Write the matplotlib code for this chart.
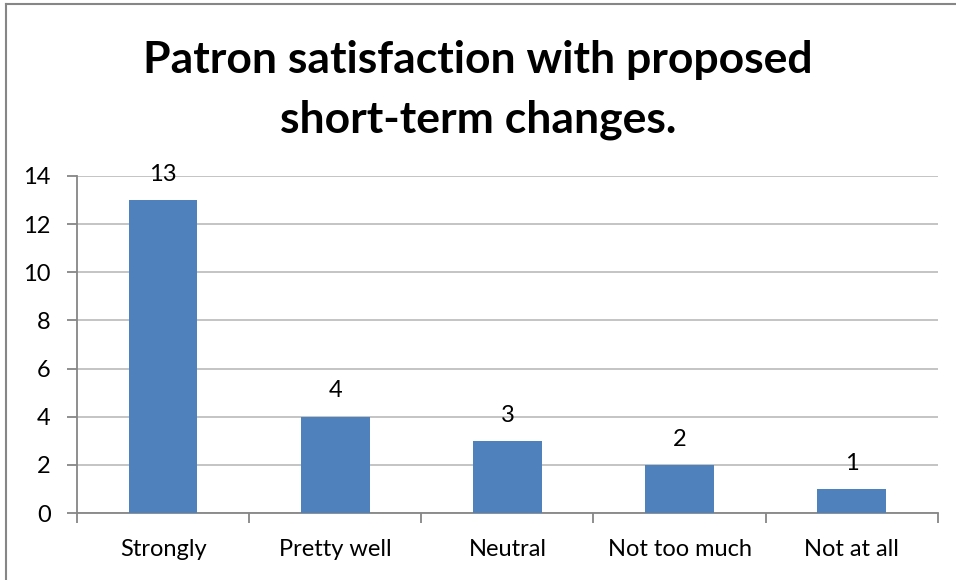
import matplotlib
matplotlib.use("Agg")
import matplotlib.pyplot as plt
from matplotlib.lines import Line2D
import numpy as np

categories = ["Strongly", "Pretty well", "Neutral", "Not too much", "Not at all"]
counts = [13, 4, 3, 2, 1]
y_ticks = [0, 2, 4, 6, 8, 10, 12, 14]

plt.rcParams["font.family"] = ["Lato", "DejaVu Sans"]

fig = plt.figure(figsize=(9.56, 5.8), dpi=100)
ax = fig.add_axes([0.0805, 0.1155, 0.9005, 0.5811])

x = np.arange(len(categories))
bars = ax.bar(x, counts, width=0.4, color="#4F81BD", zorder=3)

for xi, v in zip(x, counts):
    ax.annotate(str(v), (xi, v), xytext=(0, 11), textcoords="offset points",
                ha="center", va="bottom", fontsize=17, color="black")

ax.set_xlim(-0.5, len(categories) - 0.5)
ax.set_ylim(0, 14)
ax.set_yticks(y_ticks)
ax.yaxis.grid(True, color="#BFBFBF", linewidth=1.3, zorder=0)
ax.set_axisbelow(True)

# category labels centred, ticks at the category boundaries
ax.set_xticks(x)
ax.set_xticklabels(categories, fontsize=17)
ax.tick_params(axis="x", length=0, pad=19)
ax.set_xticks(np.arange(len(categories) + 1) - 0.5, minor=True)
ax.tick_params(axis="x", which="minor", length=7, color="#868686", width=1.3)
ax.tick_params(axis="y", labelsize=17, length=7, color="#868686", width=1.3, pad=12)

for side in ["top", "right"]:
    ax.spines[side].set_visible(False)
for side in ["left", "bottom"]:
    ax.spines[side].set_color("#868686")
    ax.spines[side].set_linewidth(1.3)

fig.text(0.5, 0.845, "Patron satisfaction with proposed\nshort-term changes.",
         ha="center", va="center", fontsize=32, fontweight="bold",
         linespacing=1.6)

# outer frame (left and top edges visible in the reference)
fig.add_artist(Line2D([0.006, 0.006], [0, 0.993], transform=fig.transFigure,
                      color="#868686", linewidth=1.5))
fig.add_artist(Line2D([0.006, 1], [0.993, 0.993], transform=fig.transFigure,
                      color="#868686", linewidth=1.5))

fig.savefig("out.png", dpi=100)
